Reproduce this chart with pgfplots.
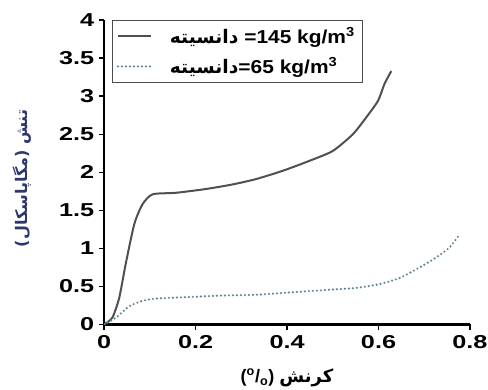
\documentclass[border=0pt]{standalone}
\usepackage{pgfplots}
\pgfplotsset{compat=1.18}
\usepackage{fontspec}
\setmainfont{Liberation Sans}
\newfontfamily\tickfont[FakeStretch=1.35]{Liberation Sans}
\newfontfamily\legfont[FakeStretch=1.12]{Liberation Sans}
\newfontfamily\arabicfont[Script=Arabic]{DejaVu Sans}
\TeXXeTstate=1
\definecolor{solidc}{RGB}{80,80,80}
\definecolor{dotc}{RGB}{95,135,145}
\definecolor{ylabc}{RGB}{45,55,110}
\begin{document}
\begin{tikzpicture}
\begin{axis}[
  scale only axis,
  width=274pt, height=228pt,
  xmin=0, xmax=0.8, ymin=0, ymax=4,
  axis x line=bottom, axis y line=left,
  axis line style={line width=1.6pt, -},
  xtick={0,0.2,...,0.8}, ytick={0,0.5,...,4},
  tick style={line width=1pt, black},
  major tick length=4pt,
  tick align=outside,
  xticklabel style={font=\tickfont\fontsize{14}{16}\selectfont\bfseries, yshift=-1pt},
  yticklabel style={font=\tickfont\fontsize{14}{16}\selectfont\bfseries},
  /pgf/number format/assume math mode=true,
  xticklabel={\pgfmathprintnumber[fixed,precision=1]{\tick}},
  yticklabel={\pgfmathprintnumber[fixed,precision=1]{\tick}},
  xlabel={\textbf{(\textsuperscript{o}/\textsubscript{o})} {\arabicfont\bfseries\beginR کرنش\endR}},
  xlabel style={font=\fontsize{13.5}{15}\selectfont, at={(axis description cs:0.5,0)}, anchor=center, yshift=-40pt},
  ylabel={\textcolor{ylabc}{\arabicfont\bfseries\beginR تنش (مگاپاسکال)\endR}},
  ylabel style={font=\fontsize{12}{14}\selectfont, at={(axis description cs:-0.225,0.48)}, anchor=center},
  legend style={at={(0,1)}, anchor=north west, xshift=6pt, draw=black!70, line width=0.8pt,
    font=\legfont\fontsize{14}{16}\selectfont\bfseries, inner xsep=3pt, inner ysep=3pt, row sep=5pt,
    legend cell align=left},
  legend image code/.code={\draw[#1] (0pt,0pt) -- (25pt,0pt);},
  legend columns=1,
]
\coordinate (LL) at (rel axis cs:0,0);
\coordinate (UR) at (rel axis cs:1,1);
\addplot[solidc, line width=1.5pt, smooth, tension=0.4] coordinates {
(0,0) (0.018,0.09) (0.033,0.35) (0.047,0.79) (0.066,1.32) (0.084,1.58) (0.106,1.71)
(0.157,1.73) (0.223,1.78) (0.281,1.84) (0.332,1.91) (0.391,2.02) (0.449,2.15) (0.5,2.28)
(0.544,2.50) (0.573,2.72) (0.599,2.94) (0.613,3.16) (0.628,3.33)};
\addlegendentry{\makebox[150pt][l]{\hspace{11pt}{\arabicfont\bfseries\fontsize{14}{16}\selectfont\beginR دانسیته\endR} =145 kg/m\textsuperscript{3}}}
\addplot[dotc, line width=1.8pt, line cap=round, dash pattern=on 0pt off 3pt, smooth, tension=0.4] coordinates {
(0,0) (0.026,0.09) (0.055,0.24) (0.084,0.31) (0.113,0.34) (0.186,0.36) (0.259,0.38)
(0.332,0.39) (0.405,0.42) (0.478,0.45) (0.551,0.48) (0.602,0.53) (0.646,0.61)
(0.690,0.75) (0.726,0.88) (0.755,1.01) (0.777,1.18)};
\addlegendentry{\makebox[150pt][l]{\hspace{11pt}{\arabicfont\bfseries\fontsize{14}{16}\selectfont\beginR دانسیته\endR}=65 kg/m\textsuperscript{3}}}
\end{axis}
\pgfresetboundingbox
\path ([shift={(-78pt,-48.75pt)}]LL) rectangle ([shift={(13.5pt,15pt)}]UR);
\end{tikzpicture}
\end{document}
